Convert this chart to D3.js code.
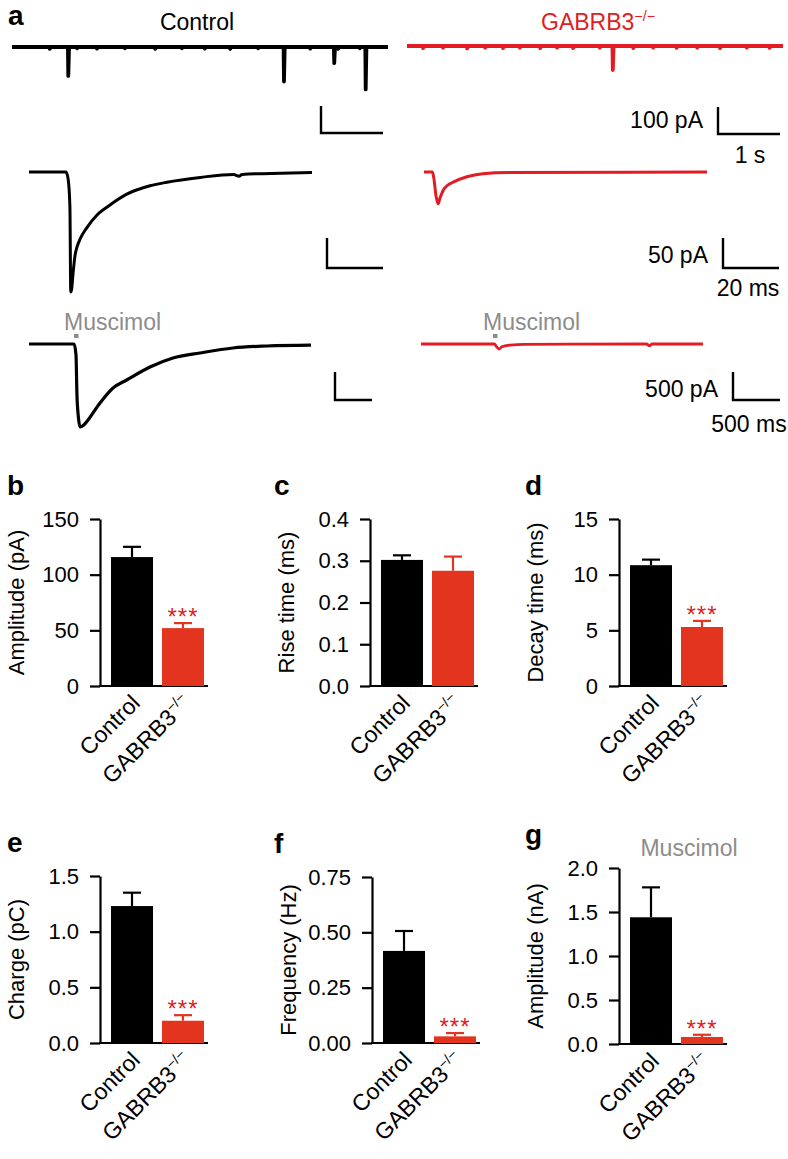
<!DOCTYPE html>
<html><head><meta charset="utf-8">
<script src="https://cdn.jsdelivr.net/npm/d3@7"></script>
<style>
body{margin:0;background:#fff}
svg{display:block}
text{font-family:"Liberation Sans",Arial,Helvetica,sans-serif}
</style>
</head><body>
<svg id="chart" width="788" height="1159"></svg>
<script>
// ---------------- DATA ----------------
// Row 1: spontaneous IPSC traces (time s, amplitude pA)
const ctrlEvents = [[0.908,107],[4.387,128],[5.198,60],[5.705,157]];
const ctrlNoise = [[0.61,7],[1.05,5],[1.37,6],[1.82,5],[2.31,7],[2.74,5],[3.11,6],[3.52,7],[3.97,5],[4.81,6],[5.26,7],[5.61,5]];
const koEvents = [[3.32,89]];
const koNoise = [[0.26,8],[0.58,6],[0.97,9],[1.26,6],[1.55,8],[1.82,6],[2.15,8],[2.42,6],[2.68,8],[3.11,6],[3.65,8],[3.97,6],[4.35,7],[4.68,6],[5.05,8],[5.48,6],[5.85,7]];
const row1Duration = 6.065;

// Row 2: averaged mIPSC (time ms, current pA)
const ctrlMini = [[0,0],[13.2,0],[14.0,-13],[14.6,-58],[14.9,-200],[15.2,-196],[15.7,-170],[16.4,-140],[17.2,-124],[18.2,-112],[20.6,-93],[24.2,-72],[28.9,-55],[34.9,-37],[43.2,-23],[49.2,-17],[61.1,-9],[73,-4],[75,-7],[76,-4],[90,-2],[101,-1]];
const koMini = [[0,0],[3.0,0],[3.5,-10],[4.3,-40],[5.0,-53],[5.6,-45],[6.9,-30],[8.5,-22],[10.4,-17],[15.3,-8],[21,-3],[30,-1],[101,0]];

// Row 3: muscimol-evoked currents (time ms, current pA)
const ctrlMusc = [[0,0],[480,0],[500,-200],[510,-900],[525,-1300],[543,-1480],[580,-1450],[614,-1388],[755,-1054],[894,-786],[1039,-643],[1287,-411],[1532,-250],[1819,-161],[2170,-71],[2532,-36],[3000,-20]];
const koMusc = [[0,0],[780,0],[800,-40],[830,-90],[860,-50],[950,-20],[1100,-5],[2400,0],[2430,-30],[2460,0],[3000,0]];
const muscPuff = [500, 787];

// Scale bars
const scaleBarT = [1, 20, 500];
const scaleBarI = [100, 50, 500];
const scaleBarTLabels = ["1 s", "20 ms", "500 ms"];
const scaleBarILabels = ["100 pA", "50 pA", "500 pA"];
const leftScaleBarT = [1, 20, 394];

// Bar charts
const categories = ["Control", "GABRB3"];
const amplitudeMean = [115.8, 52];
const amplitudeSem = [9.2, 4.5];
const riseMean = [0.302, 0.276];
const riseSem = [0.011, 0.034];
const decayMean = [10.85, 5.3];
const decaySem = [0.5, 0.55];
const chargeMean = [1.23, 0.2];
const chargeSem = [0.12, 0.05];
const freqMean = [0.416, 0.03];
const freqSem = [0.09, 0.015];
const muscAmpMean = [1.44, 0.08];
const muscAmpSem = [0.34, 0.025];

const ampTicks = [0, 50, 100, 150];
const riseTicks = [0, 0.1, 0.2, 0.3, 0.4];
const decayTicks = [0, 5, 10, 15];
const chargeTicks = [0, 0.5, 1.0, 1.5];
const freqTicks = [0, 0.25, 0.5, 0.75];
const muscTicks = [0, 0.5, 1.0, 1.5, 2.0];

// ---------------- STYLE ----------------
const BLACK = "#000";
const RED_TRACE = "#e31b23";
const RED_BAR = "#e2341f";
const GRAY = "#8c8c8c";
const FS = 22;

const svg = d3.select("#chart");

function label(x, y, txt, opts = {}) {
  return svg.append("text").attr("x", x).attr("y", y).text(txt)
    .attr("font-size", opts.size || FS)
    .attr("font-weight", opts.bold ? "bold" : null)
    .attr("fill", opts.fill || BLACK)
    .attr("text-anchor", opts.anchor || "start");
}
function koLabel(g, x, y, anchor, fill, size) {
  const t = g.append("text").attr("x", x).attr("y", y)
    .attr("font-size", size).attr("fill", fill).attr("text-anchor", anchor);
  t.append("tspan").text("GABRB3");
  t.append("tspan").text("\u2212/\u2212").attr("font-size", size * 0.62).attr("dy", -size * 0.38);
  return t;
}

// ---------------- PANEL a ----------------
label(8, 25, "a", {bold: true, size: 28});
label(197, 30, "Control", {anchor: "middle", size: 23});
koLabel(svg, 598, 30, "middle", RED_TRACE, 23);

const line = (xs, ys, curve) => d3.line().x(d => xs(d[0])).y(d => ys(d[1])).curve(curve || d3.curveLinear);

function eventTrace(events, noise, dur) {
  const all = events.concat(noise).sort((a, b) => a[0] - b[0]);
  const pts = [[0, 0]];
  all.forEach(([t, a]) => { pts.push([t - 0.006, 0]); pts.push([t, -a]); pts.push([t + 0.012, 0]); });
  pts.push([dur, 0]);
  return pts;
}

// Row 1
const r1xC = d3.scaleLinear().domain([0, row1Duration]).range([12, 388]);
const r1xK = d3.scaleLinear().domain([0, row1Duration]).range([407, 783]);
const r1yC = d3.scaleLinear().domain([0, -100]).range([47, 74]);
const r1yK = d3.scaleLinear().domain([0, -100]).range([46, 73]);
svg.append("path").attr("d", line(r1xC, r1yC)(eventTrace(ctrlEvents, ctrlNoise, row1Duration)))
  .attr("fill", "none").attr("stroke", BLACK).attr("stroke-width", 3.8).attr("stroke-linejoin", "round");
svg.append("path").attr("d", line(r1xK, r1yK)(eventTrace(koEvents, koNoise, row1Duration)))
  .attr("fill", "none").attr("stroke", RED_TRACE).attr("stroke-width", 3.8).attr("stroke-linejoin", "round");

// Row 2
const r2xC = d3.scaleLinear().domain([0, 101]).range([29, 312]);
const r2xK = d3.scaleLinear().domain([0, 101]).range([424, 707]);
const r2y = d3.scaleLinear().domain([0, -50]).range([172, 202]);
svg.append("path").attr("d", line(r2xC, r2y, d3.curveMonotoneX)(ctrlMini)).attr("fill", "none").attr("stroke", BLACK).attr("stroke-width", 3).attr("stroke-linejoin", "round");
svg.append("path").attr("d", line(r2xK, r2y, d3.curveMonotoneX)(koMini)).attr("fill", "none").attr("stroke", RED_TRACE).attr("stroke-width", 3).attr("stroke-linejoin", "round");

// Row 3
const r3xC = d3.scaleLinear().domain([0, 3000]).range([29, 311]);
const r3xK = d3.scaleLinear().domain([0, 3000]).range([421, 703]);
const r3y = d3.scaleLinear().domain([0, -500]).range([344, 372]);
svg.append("path").attr("d", line(r3xC, r3y, d3.curveMonotoneX)(ctrlMusc)).attr("fill", "none").attr("stroke", BLACK).attr("stroke-width", 3.2).attr("stroke-linejoin", "round");
svg.append("path").attr("d", line(r3xK, r3y, d3.curveMonotoneX)(koMusc)).attr("fill", "none").attr("stroke", RED_TRACE).attr("stroke-width", 2.8).attr("stroke-linejoin", "round");
[[r3xC, muscPuff[0]], [r3xK, muscPuff[1]]].forEach(([xs, t]) => {
  svg.append("rect").attr("x", xs(t) - 2).attr("y", 334).attr("width", 4.5).attr("height", 4).attr("fill", GRAY);
  label(xs(t) - 12, 330, "Muscimol", {fill: GRAY, size: 23});
});

// Scale bars
const rowScales = [[r1xC, r1yC], [r2xC, r2y], [r3xC, r3y]];
const rightCorners = [[718, 134], [723, 268], [733, 400]];
const leftCorners = [[321, 133], [327, 268], [335, 400]];
const iLabelY = [128, 263, 397];
const tLabelPos = [[750, 163], [748, 296], [749, 432]];
function scaleBar(cx, cy, xs, ys, tVal, iVal) {
  const w = xs(tVal) - xs(0);
  const h = Math.abs(ys(-iVal) - ys(0));
  svg.append("path").attr("d", `M${cx},${cy - h}V${cy}H${cx + w}`)
    .attr("fill", "none").attr("stroke", BLACK).attr("stroke-width", 2.4);
}
rowScales.forEach(([xs, ys], i) => {
  scaleBar(leftCorners[i][0], leftCorners[i][1], xs, ys, leftScaleBarT[i], scaleBarI[i]);
  const [cx, cy] = rightCorners[i];
  scaleBar(cx, cy, xs, ys, scaleBarT[i], scaleBarI[i]);
  label(cx - 15, iLabelY[i], scaleBarILabels[i], {anchor: "end", size: 23});
  label(tLabelPos[i][0], tLabelPos[i][1], scaleBarTLabels[i], {anchor: "middle", size: 23});
});

// ---------------- BAR PANELS ----------------
const panels = [
  {id: "b", ax: 100, top: 519, bot: 686, max: 150, ticks: ampTicks, fmt: d3.format("d"), mean: amplitudeMean, sem: amplitudeSem, title: "Amplitude (pA)", stars: true},
  {id: "c", ax: 370, top: 519, bot: 686, max: 0.4, ticks: riseTicks, fmt: d3.format(".1f"), mean: riseMean, sem: riseSem, title: "Rise time (ms)", stars: false},
  {id: "d", ax: 619, top: 519, bot: 686, max: 15, ticks: decayTicks, fmt: d3.format("d"), mean: decayMean, sem: decaySem, title: "Decay time (ms)", stars: true},
  {id: "e", ax: 100, top: 876, bot: 1043, max: 1.5, ticks: chargeTicks, fmt: d3.format(".1f"), mean: chargeMean, sem: chargeSem, title: "Charge (pC)", stars: true},
  {id: "f", ax: 372, top: 877, bot: 1043, max: 0.75, ticks: freqTicks, fmt: d3.format(".2f"), mean: freqMean, sem: freqSem, title: "Frequency (Hz)", stars: true},
  {id: "g", ax: 619, top: 868, bot: 1044, max: 2.0, ticks: muscTicks, fmt: d3.format(".1f"), mean: muscAmpMean, sem: muscAmpSem, title: "Amplitude (nA)", stars: true, sub: "Muscimol"}
];
const letterX = {b: 7, c: 274, d: 525, e: 7, f: 274, g: 525};

panels.forEach(p => {
  const g = svg.append("g");
  const y = d3.scaleLinear().domain([0, p.max]).range([p.bot, p.top]);
  const x = d3.scaleBand().domain(categories).range([p.ax + 11, p.ax + 104]).paddingInner(0.176).paddingOuter(0);

  label(letterX[p.id], p.top - 24, p.id, {bold: true, size: 28});

  const yAxis = d3.axisLeft(y).tickValues(p.ticks).tickFormat(p.fmt).tickSize(10).tickPadding(11).tickSizeOuter(0);
  const ag = g.append("g").attr("transform", `translate(${p.ax},0)`).call(yAxis);
  ag.select(".domain").attr("stroke-width", 2.2);
  ag.selectAll(".tick line").attr("stroke-width", 2.2);
  ag.selectAll(".tick text").attr("font-size", FS).attr("font-family", "Liberation Sans, Arial, sans-serif").attr("fill", BLACK);

  g.append("line").attr("x1", p.ax - 1).attr("x2", p.ax + 108).attr("y1", p.bot).attr("y2", p.bot)
    .attr("stroke", BLACK).attr("stroke-width", 2.2);

  categories.forEach((c, i) => {
    const col = i === 0 ? BLACK : RED_BAR;
    const bx = x(c), bw = x.bandwidth();
    const cx = bx + bw / 2;
    const top = y(p.mean[i] + p.sem[i]);
    g.append("line").attr("x1", cx).attr("x2", cx).attr("y1", y(p.mean[i])).attr("y2", top)
      .attr("stroke", col).attr("stroke-width", 2.2);
    g.append("line").attr("x1", cx - 9).attr("x2", cx + 9).attr("y1", top).attr("y2", top)
      .attr("stroke", col).attr("stroke-width", 2.2);
    g.append("rect").attr("x", bx).attr("y", y(p.mean[i])).attr("width", bw).attr("height", p.bot - y(p.mean[i])).attr("fill", col);
    if (i === 1 && p.stars) {
      g.append("text").attr("x", cx).attr("y", top + 2).attr("text-anchor", "middle")
        .attr("font-size", 24).attr("letter-spacing", 1).attr("fill", RED_TRACE).text("***");
    }
    const lx = cx - 2, ly = p.bot + 7;
    if (i === 0) {
      g.append("text").attr("transform", `translate(${lx},${ly}) rotate(-45)`).attr("text-anchor", "end")
        .attr("font-size", 23).attr("dy", "0.7em").text(c);
    } else {
      koLabel(g, 0, 0, "end", BLACK, 23).attr("transform", `translate(${lx},${ly}) rotate(-45)`)
        .selectAll("tspan").filter((d, k) => k === 0).attr("dy", "0.7em");
    }
  });

  g.append("text").attr("transform", `translate(${p.ax - 84},${(p.top + p.bot) / 2}) rotate(-90)`)
    .attr("text-anchor", "middle").attr("dy", "0.35em").attr("font-size", FS).text(p.title);

  if (p.sub) label(p.ax + 70, p.top - 12, p.sub, {anchor: "middle", fill: GRAY, size: 23});
});
</script>
</body></html>
